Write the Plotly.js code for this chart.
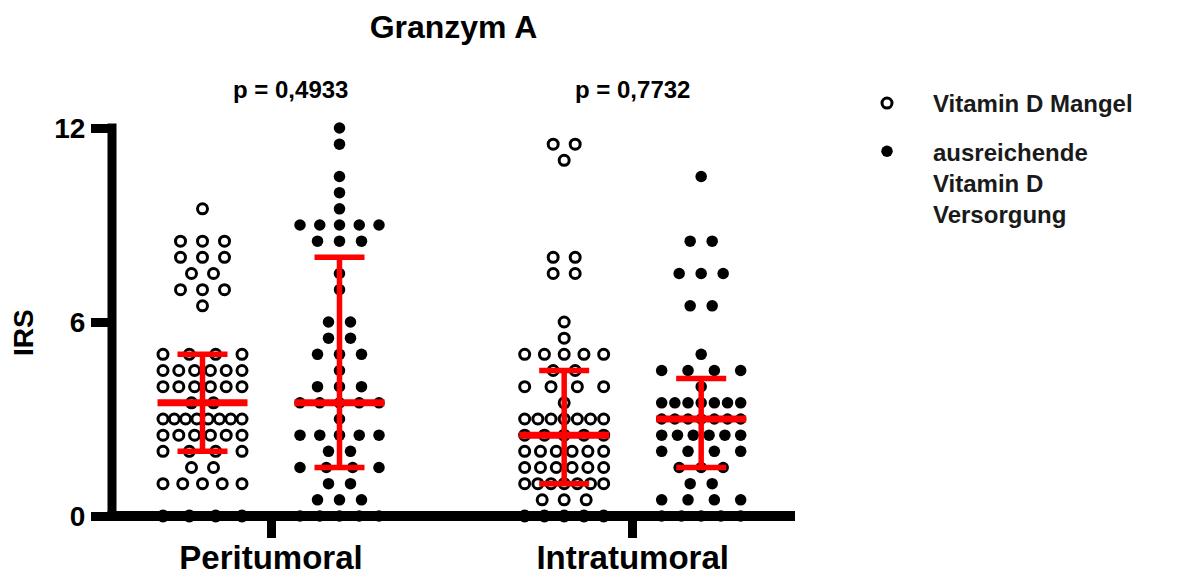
<!DOCTYPE html>
<html>
<head>
<meta charset="utf-8">
<script src="https://cdn.plot.ly/plotly-3.0.1.min.js"></script>
<style>
  html, body { margin: 0; padding: 0; background: #ffffff; }
  #chart { width: 1189px; height: 575px; }
</style>
</head>
<body>
<div id="chart"></div>
<script>
// Granzym A immunoreactivity score (IRS), one value per sample,
// as stacked in the dot plot rows.
const categories = ['Peritumoral', 'Intratumoral'];
const seriesNames = ['Vitamin D Mangel', 'ausreichende<br>Vitamin D<br>Versorgung'];
const pValues = ['p = 0,4933', 'p = 0,7732'];

const periMangel = [
  9.5,
  8.5, 8.5, 8.5,
  8, 8, 8,
  7.5, 7.5,
  7, 7, 7,
  6.5,
  5, 5, 5, 5,
  4.5, 4.5, 4.5, 4.5, 4.5, 4.5,
  4, 4, 4, 4, 4, 4,
  3.5, 3.5,
  3, 3, 3, 3, 3, 3, 3, 3,
  2.5, 2.5, 2.5, 2.5, 2.5, 2.5,
  2, 2, 2, 2,
  1.5, 1.5,
  1, 1, 1, 1, 1,
  0, 0, 0, 0
];
const periAusreichend = [
  12, 11.5, 10.5, 10, 9.5,
  9, 9, 9, 9, 9,
  8.5, 8.5, 8.5,
  7.5, 7,
  6, 6,
  5.5, 5.5,
  5, 5, 5,
  4.5,
  4, 4, 4,
  3.5, 3.5, 3.5, 3.5, 3.5,
  3,
  2.5, 2.5, 2.5, 2.5, 2.5,
  2, 2,
  1.5, 1.5, 1.5, 1.5,
  1, 1,
  0.5, 0.5, 0.5,
  0, 0, 0, 0, 0
];
const intraMangel = [
  11.5, 11.5, 11,
  8, 8,
  7.5, 7.5,
  6, 5.5,
  5, 5, 5, 5, 5,
  4.5, 4.5,
  4, 4, 4, 4,
  3.5,
  3, 3, 3, 3, 3, 3, 3,
  2.5, 2.5, 2.5, 2.5, 2.5,
  2, 2, 2, 2, 2, 2,
  1.5, 1.5, 1.5, 1.5, 1.5, 1.5,
  1, 1, 1, 1, 1, 1, 1,
  0.5, 0.5, 0.5,
  0, 0, 0, 0, 0
];
const intraAusreichend = [
  10.5,
  8.5, 8.5,
  7.5, 7.5, 7.5,
  6.5, 6.5,
  5,
  4.5, 4.5, 4.5, 4.5,
  4,
  3.5, 3.5, 3.5, 3.5, 3.5, 3.5, 3.5,
  3, 3, 3, 3, 3, 3, 3,
  2.5, 2.5, 2.5, 2.5, 2.5, 2.5,
  2, 2, 2, 2,
  1.5, 1.5, 1.5,
  1, 1,
  0.5, 0.5, 0.5, 0.5,
  0, 0, 0, 0, 0
];

// Median with interquartile range per group
const medians = [3.5, 3.5, 2.5, 3];
const q1 = [2, 1.5, 1, 1.5];
const q3 = [5, 8, 4.5, 4.25];

// ---- layout geometry ----
const W = 1189, H = 575;
const M = { l: 112, r: 394, t: 128, b: 59 };
const plotW = W - M.l - M.r;
const plotH = H - M.t - M.b;
const xRange = [-0.6606, 4.3248];
const groupX = [0, 1, 2.64, 3.64];
const catTickX = [0.5, 3.14];
const pLabelX = [0.64, 3.135];
const pxPerX = plotW / (xRange[1] - xRange[0]);

const groups = [periMangel, periAusreichend, intraMangel, intraAusreichend];

// spread dots sharing a value horizontally inside the column
function rowOffsets(n) {
  if (n === 1) return [0];
  const step = n <= 3 ? 22 : 79 / (n - 1);
  const out = [];
  for (let i = 0; i < n; i++) out.push((i - (n - 1) / 2) * step);
  return out;
}
function swarm(values, cx) {
  const counts = new Map();
  values.forEach(v => counts.set(v, (counts.get(v) || 0) + 1));
  const used = new Map();
  const xs = [], ys = [];
  values.forEach(v => {
    const n = counts.get(v);
    const k = used.get(v) || 0;
    used.set(v, k + 1);
    xs.push(cx + rowOffsets(n)[k] / pxPerX);
    ys.push(v);
  });
  return { x: xs, y: ys };
}

const FONT = 'Liberation Sans, Arial, Helvetica, sans-serif';
const traces = [];

groups.forEach((vals, i) => {
  const open = i % 2 === 0;
  const p = swarm(vals, groupX[i]);
  traces.push({
    type: 'scatter', mode: 'markers',
    x: p.x, y: p.y,
    name: open ? seriesNames[0] : seriesNames[1],
    legendgroup: open ? 'a' : 'b',
    showlegend: i < 2,
    cliponaxis: false,
    hoverinfo: 'y',
    marker: open
      ? { symbol: 'circle-open', size: 10, color: '#000', line: { width: 3, color: '#000' } }
      : { symbol: 'circle', size: 11.5, color: '#000', line: { width: 0 } }
  });
});

// red median bars and IQR whiskers
const medX = [], medY = [], iqrX = [], iqrY = [];
const medHalf = 45 / pxPerX, capHalf = 25 / pxPerX;
groupX.forEach((cx, i) => {
  medX.push(cx - medHalf, cx + medHalf, null);
  medY.push(medians[i], medians[i], null);
  iqrX.push(cx, cx, null, cx - capHalf, cx + capHalf, null, cx - capHalf, cx + capHalf, null);
  iqrY.push(q1[i], q3[i], null, q1[i], q1[i], null, q3[i], q3[i], null);
});
traces.push({
  type: 'scatter', mode: 'lines', x: iqrX, y: iqrY, showlegend: false,
  hoverinfo: 'skip', cliponaxis: false, line: { color: '#ff0000', width: 5.5 }
});
traces.push({
  type: 'scatter', mode: 'lines', x: medX, y: medY, showlegend: false,
  hoverinfo: 'skip', cliponaxis: false, line: { color: '#ff0000', width: 7 }
});

const layout = {
  width: W, height: H,
  margin: M,
  paper_bgcolor: '#ffffff', plot_bgcolor: '#ffffff',
  font: { family: FONT, color: '#000', weight: 'bold' },
  title: {
    text: 'Granzym A',
    font: { family: FONT, size: 32, color: '#000', weight: 'bold' },
    xref: 'paper', x: 0.5, xanchor: 'center',
    yref: 'container', y: 1 - 27 / H, yanchor: 'middle'
  },
  xaxis: {
    range: xRange, showgrid: false, zeroline: false, showline: false,
    tickmode: 'array', tickvals: catTickX, ticktext: categories,
    ticks: 'outside', ticklen: 21, tickwidth: 9, tickcolor: '#000',
    ticklabelstandoff: -9,
    tickfont: { family: FONT, size: 33, color: '#000', weight: 'bold' },
    automargin: false, fixedrange: true
  },
  yaxis: {
    range: [0, 12], showgrid: false, zeroline: false, showline: false,
    tickmode: 'array', tickvals: [0, 6, 12], ticktext: ['0', '6', '12'],
    ticks: 'outside', ticklen: 20, tickwidth: 9, tickcolor: '#000',
    tickfont: { family: FONT, size: 28, color: '#000', weight: 'bold' },
    automargin: false, fixedrange: true
  },
  shapes: [
    { type: 'line', xref: 'paper', yref: 'paper', layer: 'above',
      x0: 0, x1: 0, y0: -5 / plotH, y1: 1 + 4.5 / plotH,
      line: { color: '#000', width: 9 } },
    { type: 'line', xref: 'paper', yref: 'paper', layer: 'above',
      x0: -4.5 / plotW, x1: 1, y0: 0, y1: 0,
      line: { color: '#000', width: 10 } }
  ],
  annotations: [
    { text: 'IRS', xref: 'paper', yref: 'paper', x: (23 - M.l) / plotW, y: (516 - 333) / plotH,
      xanchor: 'center', yanchor: 'middle', textangle: -90, showarrow: false,
      font: { family: FONT, size: 28, color: '#000', weight: 'bold' } }
  ].concat(pValues.map((t, i) => ({
      text: t, xref: 'x', yref: 'paper', x: pLabelX[i], y: (516 - 90) / plotH,
      xanchor: 'center', yanchor: 'middle', showarrow: false,
      font: { family: FONT, size: 24, color: '#000', weight: 'bold' }
  }))),
  legend: {
    x: (841 - M.l) / plotW, xanchor: 'left',
    y: (516 - 81) / plotH, yanchor: 'top',
    font: { family: FONT, size: 24, color: '#1a1a1a', weight: 'bold' },
    itemwidth: 82, valign: 'top', traceorder: 'grouped', tracegroupgap: 14,
    bgcolor: 'rgba(0,0,0,0)', borderwidth: 0
  },
  showlegend: true
};

Plotly.newPlot('chart', traces, layout, { displayModeBar: false, staticPlot: true });
</script>
</body>
</html>
